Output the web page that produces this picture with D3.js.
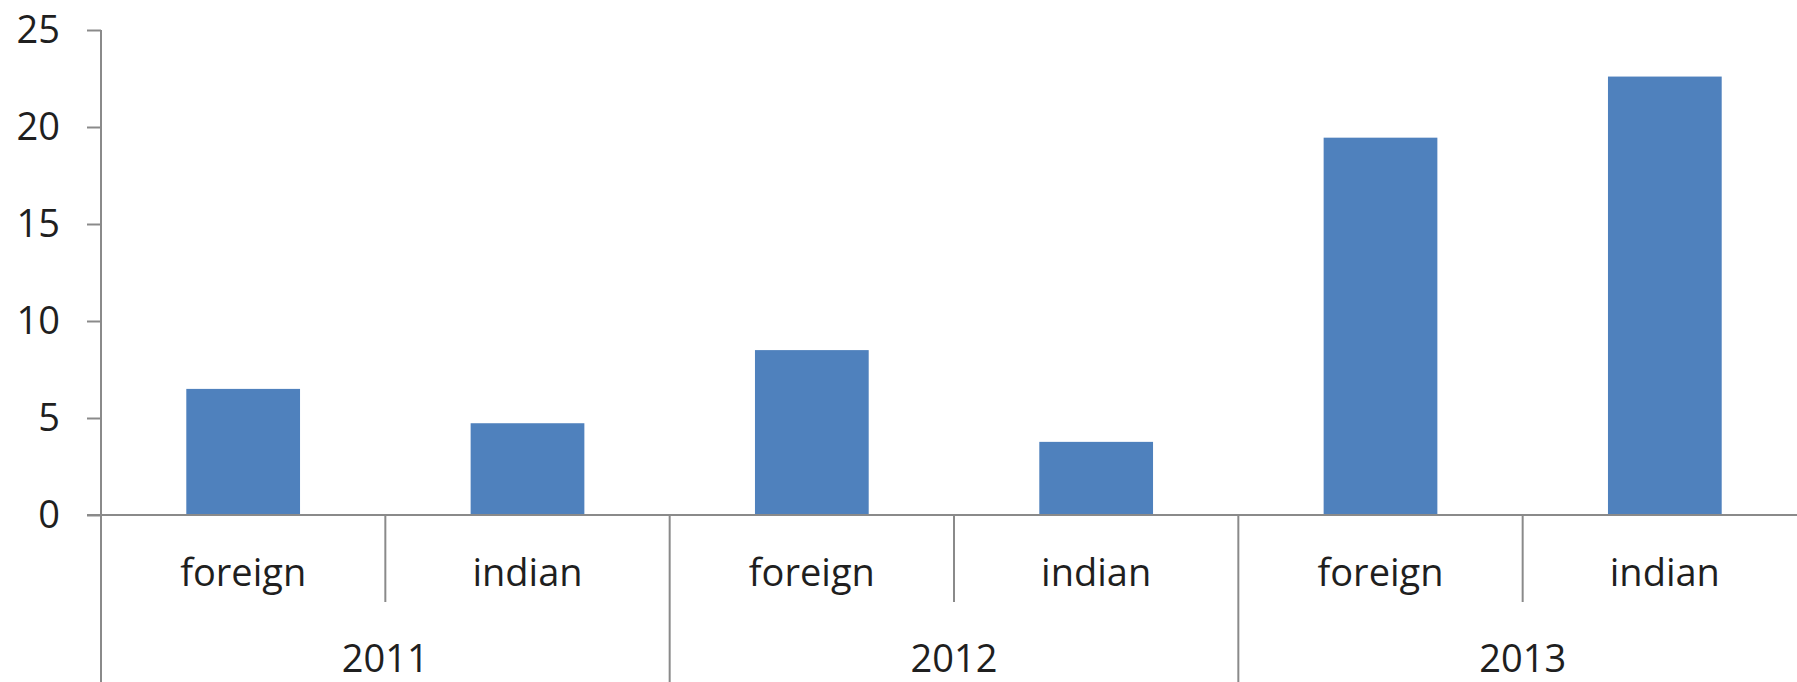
<!DOCTYPE html>
<html>
<head>
<meta charset="utf-8">
<script src="https://cdn.jsdelivr.net/npm/d3@7"></script>
<style>
  html, body { margin: 0; padding: 0; background: #fff; }
  svg { display: block; }
  text { font-family: "Open Sans", sans-serif; fill: #1f1f1f; }
</style>
</head>
<body>
<svg id="chart" width="1797" height="682"></svg>
<script>
// Years (outer category level) and origin (inner level)
const years = ["2011", "2012", "2013"];
const origins = ["foreign", "indian"];
// Values per year, by origin
const foreignValues = [6.5, 8.5, 19.45];
const indianValues = [4.73, 3.77, 22.6];
// Value axis ticks
const yTicks = [0, 5, 10, 15, 20, 25];

const rows = [];
years.forEach((yr, i) => {
  rows.push({ year: yr, origin: "foreign", key: yr + "|foreign", value: foreignValues[i] });
  rows.push({ year: yr, origin: "indian", key: yr + "|indian", value: indianValues[i] });
});

const W = 1797, H = 682;
const axisX = 101, plotRight = 1807;
const baseY = 515, topY = 30;
const axisColor = "#8a8a8a";
const barColor = "#4f81bd";
const fontSize = 38;

const svg = d3.select("#chart");

const x = d3.scaleBand()
  .domain(rows.map(d => d.key))
  .range([axisX, plotRight])
  .paddingInner(0.6)
  .paddingOuter(0.3);

const y = d3.scaleLinear().domain([0, 25]).range([baseY, topY]);

// Bars
svg.append("g").selectAll("rect")
  .data(rows)
  .join("rect")
  .attr("x", d => x(d.key))
  .attr("width", x.bandwidth())
  .attr("y", d => y(d.value))
  .attr("height", d => y(0) - y(d.value))
  .attr("fill", barColor);

// Value axis
const yAxis = svg.append("g")
  .attr("transform", `translate(${axisX},0)`)
  .call(d3.axisLeft(y).tickValues(yTicks).tickSize(14).tickPadding(27).tickFormat(d3.format("d")));
yAxis.select(".domain").remove();
yAxis.selectAll(".tick line").attr("stroke", axisColor).attr("stroke-width", 2);
yAxis.selectAll(".tick text")
  .style("font-family", "'Open Sans', sans-serif")
  .style("font-size", fontSize + "px")
  .attr("fill", "#1f1f1f");

svg.append("line")
  .attr("x1", axisX).attr("x2", axisX)
  .attr("y1", y(25)).attr("y2", H)
  .attr("stroke", axisColor).attr("stroke-width", 2);

// Category axis baseline
svg.append("line")
  .attr("x1", axisX - 14).attr("x2", W)
  .attr("y1", y(0)).attr("y2", y(0))
  .attr("stroke", axisColor).attr("stroke-width", 2);

// Category separators: short ones between origins, long ones between years
const gap = (x.step() - x.bandwidth()) / 2;
const bounds = rows.map((d, i) => ({ pos: x(d.key) - gap, major: i % origins.length === 0 }));
bounds.push({ pos: x(rows[rows.length - 1].key) + x.bandwidth() + gap, major: true });
svg.append("g").selectAll("line")
  .data(bounds.filter((b, i) => i > 0))
  .join("line")
  .attr("x1", b => b.pos).attr("x2", b => b.pos)
  .attr("y1", y(0))
  .attr("y2", b => b.major ? H : 602)
  .attr("stroke", axisColor).attr("stroke-width", 2);

// Inner labels
svg.append("g").selectAll("text")
  .data(rows)
  .join("text")
  .attr("x", d => x(d.key) + x.bandwidth() / 2)
  .attr("y", 586)
  .attr("text-anchor", "middle")
  .style("font-size", fontSize + "px")
  .text(d => d.origin);

// Outer labels
svg.append("g").selectAll("text")
  .data(years)
  .join("text")
  .attr("x", yr => {
    const a = x(yr + "|foreign") - gap;
    const b = x(yr + "|indian") + x.bandwidth() + gap;
    return (a + b) / 2;
  })
  .attr("y", 672)
  .attr("text-anchor", "middle")
  .style("font-size", fontSize + "px")
  .text(yr => yr);
</script>
</body>
</html>
